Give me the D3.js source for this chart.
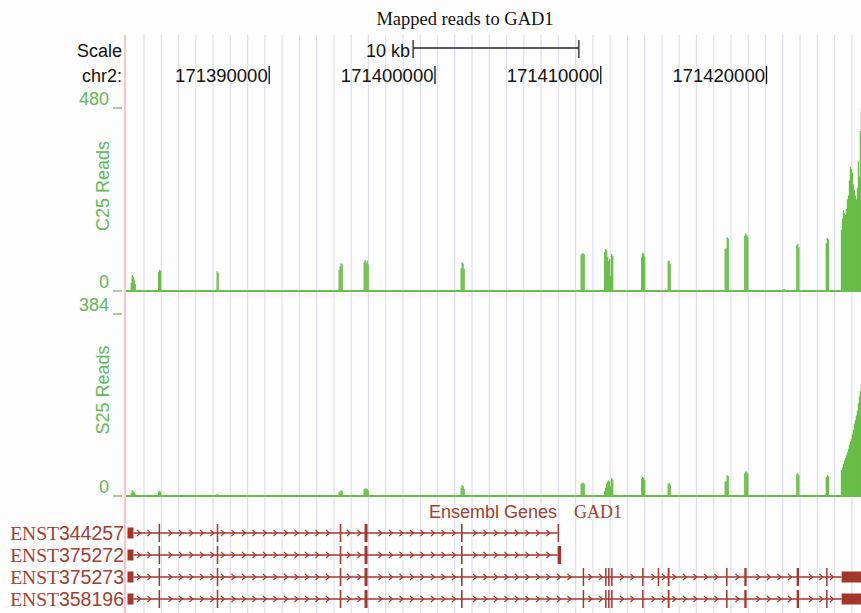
<!DOCTYPE html>
<html>
<head>
<meta charset="utf-8">
<script src="https://cdn.jsdelivr.net/npm/d3@7/dist/d3.min.js"></script>
<style>
  body { margin: 0; background: #fff; }
  svg { display: block; }
</style>
</head>
<body>
<svg id="chart" width="861" height="613"></svg>
<script>
// chr2 window shown in the browser
var viewStart = 171381300, viewEnd = 171425700;
var tickVals = [171390000, 171400000, 171410000, 171420000];
var scaleBarStart = 171398680, scaleBarLen = 10000;
var gridStart = 171382446, gridStep = 1041.5;

// read coverage, one value per 60 bp bin, starting at each peak start
var binSize = 60;
var peakStarts = [171381640, 171383290, 171386820, 171394180, 171395690, 171401540,
  171408780, 171410200, 171412430, 171414030, 171417470, 171418650, 171420970,
  171421790, 171423570, 171424485];
var c25Vals = [
  [22, 42, 38, 30, 18],
  [50, 55, 53],
  [52, 48],
  [55, 64, 73, 70],
  [75, 81, 74, 80, 70],
  [60, 75, 72, 58],
  [95, 99, 98, 96],
  [102, 110, 106, 90, 78, 84, 40, 97, 92],
  [88, 100, 98, 90],
  [78, 79, 72],
  [110, 112, 141, 138],
  [145, 151, 147, 142],
  [4, 5],
  [120, 123, 115],
  [125, 139, 136],
  [160, 190, 212, 205, 200, 215, 240, 250, 290, 326, 320, 310, 280, 265, 250, 240, 270, 340, 300, 420, 478]
];
var s25Vals = [
  [6, 12, 10, 8, 5],
  [8, 10, 9],
  [4, 3],
  [8, 10, 12, 11],
  [14, 16, 16, 15, 12],
  [18, 23, 21, 15],
  [25, 28, 28, 26],
  [10, 18, 26, 30, 33, 30, 20, 38, 35],
  [36, 40, 38, 34],
  [26, 28, 24],
  [30, 32, 44, 42],
  [48, 52, 51, 47],
  [0, 0],
  [46, 48, 44],
  [40, 44, 42],
  [55, 60, 68, 75, 80, 86, 92, 100, 108, 115, 121, 130, 140, 152, 160, 170, 180, 195, 210, 222, 235]
];
var c25Max = 480, s25Max = 384;

// Ensembl transcripts: [start, end, coding?]
var transcriptNames = ["ENST344257", "ENST375272", "ENST375273", "ENST358196"];
var sharedExons = [[171381450, 171381810, 0], [171383325, 171383415, 1], [171386835, 171386925, 1],
  [171394255, 171394350, 1], [171395750, 171395930, 1], [171401570, 171401665, 1]];
var tailExons3 = [[171408910, 171409000, 1], [171410260, 171410350, 1], [171410445, 171410530, 1],
  [171410625, 171410710, 1], [171412495, 171412585, 1], [171413435, 171413525, 1],
  [171414040, 171414150, 1], [171417560, 171417650, 1], [171418660, 171418800, 1],
  [171421820, 171421960, 1], [171423595, 171423685, 1], [171424530, 171425700, 0]];
var transcriptExons = [
  sharedExons.concat([[171407400, 171407490, 1]]),
  sharedExons.concat([[171407400, 171407610, 1]]),
  sharedExons.concat(tailExons3),
  sharedExons.concat(tailExons3.filter(function (e) { return e[0] !== 171413435; }))
];

var green = "#69bd48", greenText = "#62b85a", geneColor = "#a3362b", geneText = "#9e4034";
var sans = "'Liberation Sans', Arial, sans-serif", serif = "'Liberation Serif', 'Times New Roman', serif";

var svg = d3.select("#chart");
var W = 861, H = 613, left = 125;

var x = d3.scaleLinear().domain([viewStart, viewEnd]).range([left, W]);

svg.append("rect").attr("width", W).attr("height", H).attr("fill", "#fdfdfd");

// blue guide lines
svg.append("g").selectAll("line")
  .data(d3.range(gridStart, viewEnd, gridStep))
  .enter().append("line")
  .attr("x1", function (d) { return x(d); }).attr("x2", function (d) { return x(d); })
  .attr("y1", 35).attr("y2", H)
  .attr("stroke", "#dedef3").attr("stroke-width", 1.2);

svg.append("line").attr("x1", left).attr("x2", left).attr("y1", 35).attr("y2", H)
  .attr("stroke", "#f3a3a3").attr("stroke-width", 1.2);

// title + ruler
svg.append("text").attr("x", 465).attr("y", 25).attr("text-anchor", "middle")
  .style("font-family", serif).style("font-size", "18.5px").attr("fill", "#111")
  .text("Mapped reads to GAD1");

svg.append("text").attr("x", 122).attr("y", 57).attr("text-anchor", "end")
  .style("font-family", sans).style("font-size", "18px").attr("fill", "#111").text("Scale");
svg.append("text").attr("x", 122).attr("y", 82).attr("text-anchor", "end")
  .style("font-family", sans).style("font-size", "18px").attr("fill", "#111").text("chr2:");

var sb = svg.append("g").attr("stroke", "#222").attr("stroke-width", 1.3);
sb.append("line").attr("x1", x(scaleBarStart)).attr("x2", x(scaleBarStart + scaleBarLen)).attr("y1", 48).attr("y2", 48);
[scaleBarStart, scaleBarStart + scaleBarLen].forEach(function (p) {
  sb.append("line").attr("x1", x(p)).attr("x2", x(p)).attr("y1", 40).attr("y2", 58);
});
svg.append("text").attr("x", x(scaleBarStart) - 3).attr("y", 57).attr("text-anchor", "end")
  .style("font-family", sans).style("font-size", "18px").attr("fill", "#111").text("10 kb");

var tk = svg.append("g").selectAll("g").data(tickVals).enter().append("g");
tk.append("line").attr("x1", function (d) { return x(d); }).attr("x2", function (d) { return x(d); })
  .attr("y1", 66).attr("y2", 84).attr("stroke", "#111").attr("stroke-width", 1.3);
tk.append("text").attr("x", function (d) { return x(d) - 1.5; }).attr("y", 82).attr("text-anchor", "end")
  .style("font-family", sans).style("font-size", "18.5px").attr("fill", "#111")
  .text(function (d) { return d; });

// coverage tracks
function drawTrack(name, vals, maxVal, yTop, yBase, labelY) {
  var y = d3.scaleLinear().domain([0, maxVal]).range([yBase, yTop]);
  var bins = [];
  peakStarts.forEach(function (s, i) {
    vals[i].forEach(function (v, j) { bins.push({ pos: s + j * binSize, v: v }); });
  });
  var g = svg.append("g");
  g.selectAll("rect").data(bins).enter().append("rect")
    .attr("x", function (d) { return x(d.pos); })
    .attr("width", function (d) { return Math.min(x(d.pos + binSize), W) - x(d.pos) + 0.3; })
    .attr("y", function (d) { return y(d.v); })
    .attr("height", function (d) { return y(0) - y(d.v); })
    .attr("fill", green);
  g.append("line").attr("x1", left + 1).attr("x2", W).attr("y1", y(0)).attr("y2", y(0))
    .attr("stroke", green).attr("stroke-width", 2);

  [maxVal, 0].forEach(function (v) {
    g.append("text").attr("x", 109).attr("y", y(v) - 3).attr("text-anchor", "end")
      .style("font-family", sans).style("font-size", "18px").attr("fill", greenText).text(v);
    g.append("line").attr("x1", 113).attr("x2", 122).attr("y1", y(v)).attr("y2", y(v))
      .attr("stroke", greenText).attr("stroke-width", 1.2);
  });
  g.append("text").attr("transform", "translate(109," + labelY + ") rotate(-90)")
    .attr("text-anchor", "middle").style("font-family", sans).style("font-size", "18px")
    .attr("fill", greenText).text(name);
}
drawTrack("C25 Reads", c25Vals, c25Max, 108, 291, 186);
drawTrack("S25 Reads", s25Vals, s25Max, 314, 496, 390);

// gene models
svg.append("text").attr("x", 429).attr("y", 518)
  .style("font-family", sans).style("font-size", "18px").attr("fill", geneText).text("Ensembl Genes");
svg.append("text").attr("x", 574).attr("y", 518)
  .style("font-family", serif).style("font-size", "18px").attr("fill", geneText).text("GAD1");

var rowY = d3.scalePoint().domain(transcriptNames).range([533, 599]);

transcriptNames.forEach(function (name, i) {
  var cy = rowY(name), exons = transcriptExons[i];
  var g = svg.append("g");
  var lbl = g.append("text").attr("x", 124).attr("y", cy + 7).attr("text-anchor", "end")
    .style("font-size", "19.5px").attr("fill", geneText);
  lbl.append("tspan").style("font-family", serif).text(name.slice(0, 4));
  lbl.append("tspan").style("font-family", sans).text(name.slice(4));

  var x0 = x(exons[0][1]), x1 = x(exons[exons.length - 1][0]);
  g.append("line").attr("x1", x0).attr("x2", x1).attr("y1", cy).attr("y2", cy)
    .attr("stroke", geneColor).attr("stroke-width", 1.6);

  // direction chevrons in the introns
  var chev = d3.range(x0 + 6, x1 - 3, 10.5).filter(function (px) {
    return exons.every(function (e) { return px < x(e[0]) - 3 || px > x(e[1]) + 4; });
  });
  g.selectAll("path").data(chev).enter().append("path")
    .attr("d", function (px) { return "M" + (px - 2.5) + "," + (cy - 3) + "L" + (px + 1) + "," + cy + "L" + (px - 2.5) + "," + (cy + 3); })
    .attr("fill", "none").attr("stroke", geneColor).attr("stroke-width", 1.1);

  g.selectAll("rect").data(exons).enter().append("rect")
    .attr("x", function (e) { return x(e[0]); })
    .attr("width", function (e) { return Math.max(x(e[1]) - x(e[0]), 1.5); })
    .attr("y", function (e) { return cy - (e[2] ? 9 : 5.5); })
    .attr("height", function (e) { return e[2] ? 18 : 11; })
    .attr("fill", geneColor);
});
</script>
</body>
</html>
